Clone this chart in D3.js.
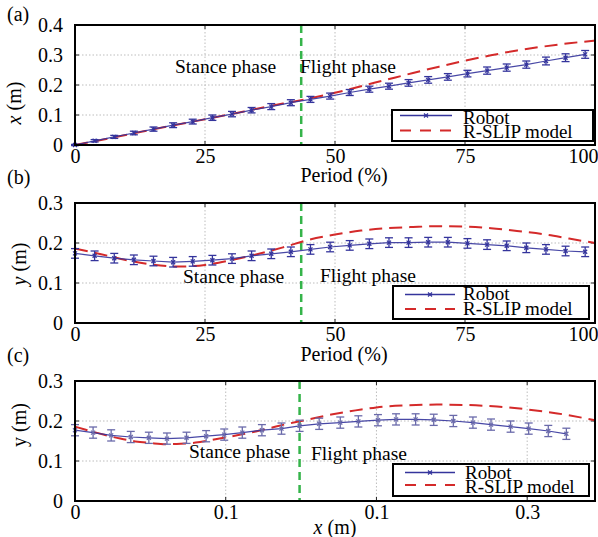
<!DOCTYPE html>
<html><head><meta charset="utf-8">
<script src="https://cdn.jsdelivr.net/npm/d3@7"></script>
<style>
html,body{margin:0;padding:0;background:#fff;}
svg{display:block;}
text{font-family:'Liberation Serif','Times New Roman',serif;fill:#000;}
</style></head>
<body>
<svg id="chart" width="598" height="537"></svg>
<script>
// ---------------- data ----------------
// robot sample instants (% of period)
const robotPeriod = [0,3.77,7.55,11.32,15.09,18.87,22.64,26.42,30.19,33.96,37.74,41.51,45.28,49.06,52.83,56.60,60.38,64.15,67.92,71.70,75.47,79.25,83.02,86.79,90.57,94.34,98.11];
// panel (a) : x (m) vs period
const robotXa = [0,0.014,0.027,0.040,0.053,0.066,0.078,0.091,0.103,0.116,0.128,0.141,0.152,0.163,0.175,0.186,0.196,0.207,0.217,0.227,0.238,0.248,0.258,0.268,0.280,0.291,0.302];
const robotXaErr = [0.002,0.004,0.005,0.006,0.007,0.008,0.008,0.009,0.009,0.009,0.010,0.010,0.010,0.010,0.010,0.010,0.010,0.011,0.011,0.011,0.011,0.012,0.012,0.012,0.013,0.013,0.013];
const rslipPeriod = [0,5,10,15,20,25,30,35,40,45,50,55,60,65,70,75,80,85,90,95,100];
const rslipXa = [0,0.017,0.034,0.052,0.069,0.086,0.103,0.121,0.138,0.155,0.174,0.196,0.218,0.240,0.261,0.281,0.299,0.315,0.328,0.339,0.348];
// panel (b) : y (m) vs period
const robotYb = [0.174,0.168,0.162,0.158,0.155,0.152,0.154,0.157,0.161,0.168,0.173,0.178,0.184,0.190,0.194,0.198,0.201,0.201,0.202,0.202,0.199,0.196,0.193,0.188,0.184,0.180,0.178];
const robotYbErr = [0.012,0.012,0.012,0.012,0.012,0.012,0.012,0.012,0.012,0.012,0.012,0.012,0.012,0.012,0.012,0.012,0.012,0.012,0.012,0.012,0.012,0.012,0.012,0.012,0.012,0.012,0.012];
const rslipYb = [0.186,0.172,0.157,0.146,0.141,0.145,0.157,0.172,0.189,0.208,0.221,0.231,0.237,0.240,0.242,0.241,0.237,0.230,0.222,0.211,0.200];
// panel (c) : y (m) vs x (m)
const robotXc = [0,0.012,0.024,0.037,0.049,0.061,0.074,0.087,0.099,0.111,0.124,0.137,0.149,0.162,0.176,0.188,0.201,0.213,0.226,0.238,0.251,0.264,0.276,0.289,0.301,0.314,0.326];
const robotYc = [0.177,0.171,0.164,0.160,0.158,0.156,0.158,0.162,0.166,0.171,0.177,0.181,0.188,0.193,0.196,0.199,0.202,0.204,0.204,0.203,0.200,0.196,0.191,0.186,0.181,0.175,0.168];
const robotYcErr = [0.014,0.014,0.014,0.014,0.014,0.014,0.014,0.014,0.014,0.014,0.014,0.014,0.014,0.014,0.014,0.014,0.014,0.014,0.014,0.014,0.014,0.014,0.014,0.014,0.014,0.014,0.014];
const rslipXc = [0,0.01,0.02,0.03,0.04,0.05,0.06,0.07,0.08,0.09,0.10,0.11,0.12,0.13,0.14,0.15,0.16,0.17,0.18,0.19,0.20,0.22,0.24,0.26,0.28,0.30,0.32,0.345];
const rslipYc = [0.186,0.175,0.165,0.156,0.149,0.145,0.142,0.143,0.146,0.152,0.159,0.166,0.174,0.183,0.192,0.200,0.208,0.216,0.223,0.229,0.234,0.239,0.241,0.240,0.236,0.229,0.219,0.202];
// phase boundaries
const phaseBoundaryPeriod = 43.5;
const phaseBoundaryX = 0.149;
// ticks
const periodTicks = [0,25,50,75,100];
const periodTickLabels = ["0","25","50","75","100"];
const xTicksA_Y = [0,0.1,0.2,0.3,0.4];
const xTickLabelsA_Y = ["0","0.1","0.2","0.3","0.4"];
const yTicks = [0,0.1,0.2,0.3];
const yTickLabels = ["0","0.1","0.2","0.3"];
const xmTicks = [0,0.1,0.2,0.3];
const xmTickLabels = ["0","0.1","0.1","0.3"];
const seriesNames = ["Robot","R-SLIP model"];
const phaseNames = ["Stance phase","Flight phase"];

// ---------------- drawing ----------------
const svg = d3.select("#chart");
const BLUE = "#34349c", RED = "#d42a2a", GREEN = "#35b44a", GRID = "#bdbdbd";
const FS = 20;

function panel(cfg){
  const g = svg.append("g");
  const x = d3.scaleLinear().domain(cfg.xDomain).range([75,595]);
  const y = d3.scaleLinear().domain(cfg.yDomain).range([cfg.bottom, cfg.top]);
  // grid
  g.selectAll(".hg").data(cfg.yTicks.filter(v=>v>cfg.yDomain[0] && v<cfg.yDomain[1])).enter()
    .append("line").attr("x1",75).attr("x2",595).attr("y1",d=>y(d)).attr("y2",d=>y(d))
    .attr("stroke",GRID).attr("stroke-width",1).attr("stroke-dasharray","1.5,2");
  g.selectAll(".vg").data(cfg.xTicks.filter(v=>v>cfg.xDomain[0] && v<cfg.xDomain[1])).enter()
    .append("line").attr("y1",cfg.top).attr("y2",cfg.bottom).attr("x1",d=>x(d)).attr("x2",d=>x(d))
    .attr("stroke",GRID).attr("stroke-width",1).attr("stroke-dasharray","1.5,2");
  // small inward ticks
  const tk = g.append("g").attr("stroke","#222").attr("stroke-width",1);
  cfg.xTicks.forEach(v=>{
    tk.append("line").attr("x1",x(v)).attr("x2",x(v)).attr("y1",cfg.bottom).attr("y2",cfg.bottom-4);
    tk.append("line").attr("x1",x(v)).attr("x2",x(v)).attr("y1",cfg.top).attr("y2",cfg.top+4);
  });
  cfg.yTicks.forEach(v=>{
    tk.append("line").attr("y1",y(v)).attr("y2",y(v)).attr("x1",75).attr("x2",79);
    tk.append("line").attr("y1",y(v)).attr("y2",y(v)).attr("x1",595).attr("x2",591);
  });
  // phase boundary
  g.append("line").attr("x1",x(cfg.boundary)).attr("x2",x(cfg.boundary))
    .attr("y1",cfg.top).attr("y2",cfg.bottom).attr("stroke",GREEN).attr("stroke-width",2.5)
    .attr("stroke-dasharray","8,5");
  // R-SLIP model
  const rl = d3.line().x(d=>x(d[0])).y(d=>y(d[1])).curve(d3.curveMonotoneX);
  g.append("path").datum(d3.zip(cfg.rx, cfg.ry)).attr("d",rl).attr("fill","none")
    .attr("stroke",RED).attr("stroke-width",2).attr("stroke-dasharray","13,7");
  // Robot
  const pts = d3.zip(cfg.px, cfg.py, cfg.pe);
  g.append("path").datum(pts).attr("d",d3.line().x(d=>x(d[0])).y(d=>y(d[1])))
    .attr("fill","none").attr("stroke",BLUE).attr("stroke-width",1.2).attr("opacity",0.9);
  const eb = g.append("g").attr("stroke",cfg.ebColor).attr("stroke-width",1.3);
  pts.forEach(d=>{
    const cx = x(d[0]), y1 = y(d[1]-d[2]), y2 = y(d[1]+d[2]);
    eb.append("line").attr("x1",cx).attr("x2",cx).attr("y1",y1).attr("y2",y2);
    eb.append("line").attr("x1",cx-4).attr("x2",cx+4).attr("y1",y1).attr("y2",y1);
    eb.append("line").attr("x1",cx-4).attr("x2",cx+4).attr("y1",y2).attr("y2",y2);
    eb.append("path").attr("d",`M${cx-2},${y(d[1])-2}L${cx+2},${y(d[1])+2}M${cx-2},${y(d[1])+2}L${cx+2},${y(d[1])-2}`);
  });
  // phase labels
  g.append("text").attr("x",cfg.stance[0]).attr("y",cfg.stance[1]).attr("font-size",19.5).text(phaseNames[0]);
  g.append("text").attr("x",cfg.flight[0]).attr("y",cfg.flight[1]).attr("font-size",19.5).text(phaseNames[1]);
  // legend
  const L = cfg.leg;
  const lg = g.append("g");
  lg.append("rect").attr("x",L.x0).attr("y",L.y0).attr("width",L.x1-L.x0).attr("height",L.y1-L.y0)
    .attr("fill","#fff").attr("stroke","#000").attr("stroke-width",2);
  lg.append("line").attr("x1",L.lx0).attr("x2",L.lx1).attr("y1",L.ly1).attr("y2",L.ly1)
    .attr("stroke",BLUE).attr("stroke-width",1.3);
  const mx = (L.lx0+L.lx1)/2;
  lg.append("path").attr("d",`M${mx-2},${L.ly1-2}L${mx+2},${L.ly1+2}M${mx-2},${L.ly1+2}L${mx+2},${L.ly1-2}`)
    .attr("stroke",BLUE).attr("stroke-width",1.3);
  lg.append("line").attr("x1",L.lx0).attr("x2",L.lx1).attr("y1",L.ly2).attr("y2",L.ly2)
    .attr("stroke",RED).attr("stroke-width",2).attr("stroke-dasharray","11,9");
  lg.append("text").attr("x",L.tx).attr("y",L.ty1).attr("font-size",19).text(seriesNames[0]);
  lg.append("text").attr("x",L.tx).attr("y",L.ty2).attr("font-size",19).text(seriesNames[1]);
  // frame
  g.append("rect").attr("x",75).attr("y",cfg.top).attr("width",520).attr("height",cfg.bottom-cfg.top)
    .attr("fill","none").attr("stroke","#000").attr("stroke-width",2);
  // axes (labels only)
  const xa = d3.axisBottom(x).tickValues(cfg.xTicks).tickFormat((d,i)=>cfg.xTickLabels[i]).tickSize(0).tickPadding(4);
  const gx = g.append("g").attr("transform",`translate(0,${cfg.bottom})`).call(xa);
  gx.select(".domain").remove();
  gx.selectAll("text").attr("font-size",FS).attr("fill","#000");
  // keep the right-most label inside the picture, as in the reference
  gx.selectAll(".tick").filter(d=>x(d)>580).select("text").attr("text-anchor","end").attr("x",3);
  const ya = d3.axisLeft(y).tickValues(cfg.yTicks).tickFormat((d,i)=>cfg.yTickLabels[i]).tickSize(0).tickPadding(12);
  const gy = g.append("g").attr("transform","translate(75,0)").call(ya);
  gy.select(".domain").remove();
  gy.selectAll("text").attr("font-size",FS).attr("fill","#000");
  // axis titles
  const yt = g.append("text").attr("transform",`translate(${cfg.ytitle[0]},${cfg.ytitle[1]}) rotate(-90)`)
    .attr("text-anchor","middle").attr("font-size",FS);
  if(cfg.ytItalic){ yt.append("tspan").attr("font-style","italic").text(cfg.ytVar); }
  else { yt.append("tspan").text(cfg.ytVar); }
  yt.append("tspan").text(" (m)");
  const xt = g.append("text").attr("x",cfg.xtitle[0]).attr("y",cfg.xtitle[1]).attr("text-anchor","middle").attr("font-size",FS);
  if(cfg.xtItalic){ xt.append("tspan").attr("font-style","italic").text("x"); xt.append("tspan").text(" (m)"); }
  else { xt.text("Period (%)"); }
  // panel letter
  g.append("text").attr("x",7).attr("y",cfg.letterY).attr("font-size",FS).text(cfg.letter);
}

panel({
  top:25, bottom:145, xDomain:[0,100], yDomain:[0,0.4],
  xTicks:periodTicks, xTickLabels:periodTickLabels, yTicks:xTicksA_Y, yTickLabels:xTickLabelsA_Y,
  boundary:phaseBoundaryPeriod, rx:rslipPeriod, ry:rslipXa, px:robotPeriod, py:robotXa, pe:robotXaErr,
  ebColor:BLUE, stance:[175,73], flight:[300,73],
  leg:{x0:392,x1:593,y0:110,y1:141,lx0:400,lx1:452,ly1:115.5,ly2:130.5,tx:463,ty1:123.5,ty2:138},
  ytitle:[21,103], ytItalic:true, ytVar:"x", xtitle:[344,182], xtItalic:false, letter:"(a)", letterY:21
});
panel({
  top:203, bottom:323, xDomain:[0,100], yDomain:[0,0.3],
  xTicks:periodTicks, xTickLabels:periodTickLabels, yTicks:yTicks, yTickLabels:yTickLabels,
  boundary:phaseBoundaryPeriod, rx:rslipPeriod, ry:rslipYb, px:robotPeriod, py:robotYb, pe:robotYbErr,
  ebColor:BLUE, stance:[183,283], flight:[320,282],
  leg:{x0:393,x1:589,y0:286,y1:319,lx0:405,lx1:455,ly1:294.5,ly2:309,tx:463,ty1:300,ty2:315},
  ytitle:[26,264], ytItalic:true, ytVar:"y", xtitle:[344,361], xtItalic:false, letter:"(b)", letterY:184
});
panel({
  top:381, bottom:501, xDomain:[0,0.345], yDomain:[0,0.3],
  xTicks:xmTicks, xTickLabels:xmTickLabels, yTicks:yTicks, yTickLabels:yTickLabels,
  boundary:phaseBoundaryX, rx:rslipXc, ry:rslipYc, px:robotXc, py:robotYc, pe:robotYcErr,
  ebColor:"#6a6aaa", stance:[189,458], flight:[311,460],
  leg:{x0:393,x1:589,y0:464,y1:496,lx0:405,lx1:455,ly1:472.5,ly2:485,tx:465,ty1:478.5,ty2:493},
  ytitle:[26,425], ytItalic:false, ytVar:"y", xtitle:[335,534], xtItalic:true, letter:"(c)", letterY:362
});
</script>
</body></html>
